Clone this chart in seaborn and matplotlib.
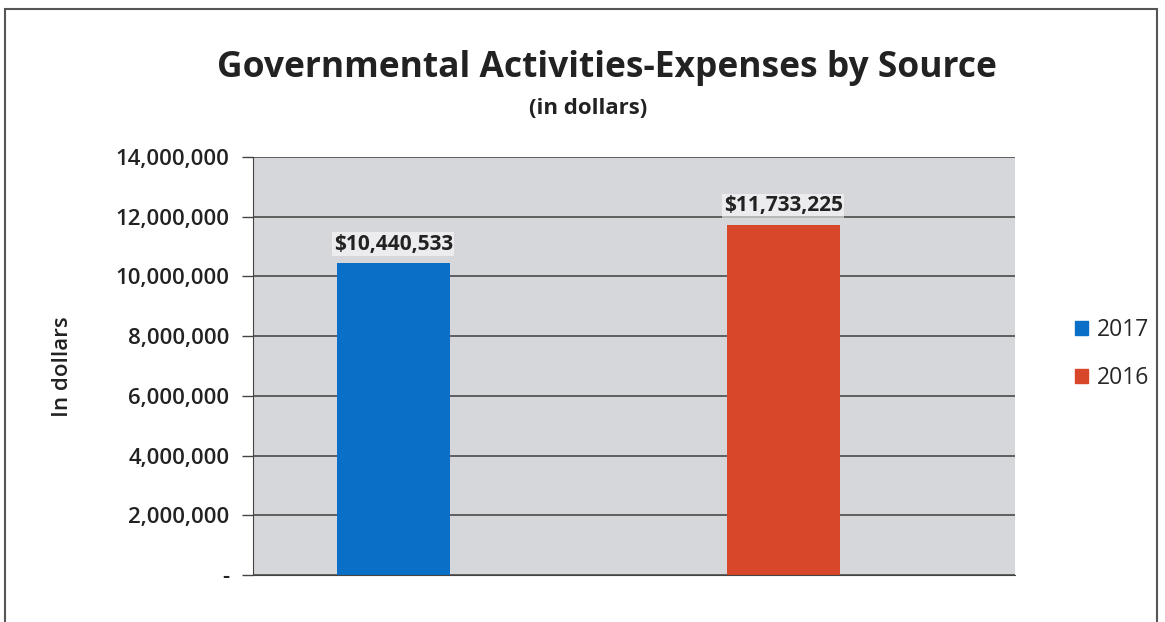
#!/usr/bin/env python3

import pandas as pd
import seaborn as sns
import matplotlib.pyplot as plt
from matplotlib.patches import Rectangle
from matplotlib.ticker import FuncFormatter

# Chart data
years = ['2017', '2016']
expenses = [10440533, 11733225]
colors = ['#0a6fc6', '#d9472b']

data = pd.DataFrame({'year': years, 'value': expenses})

sns.set_style('white')
plt.rcParams['font.family'] = ['Open Sans', 'DejaVu Sans']

fig = plt.figure(figsize=(11.65, 6.22), dpi=100)
ax = fig.add_axes([253 / 1165, 1 - 575 / 622, 762 / 1165, 418 / 622])

sns.barplot(x='year', y='value', hue='year', data=data, palette=colors,
            dodge=False, width=0.29, legend=False, ax=ax, saturation=1,
            linewidth=0)

ax.set_facecolor('#d6d7da')
ax.set_ylim(0, 14000000)
ax.set_xlim(-0.36, 1.594)
ax.set_yticks(range(0, 14000001, 2000000))
ax.yaxis.set_major_formatter(FuncFormatter(lambda v, p: '-' if v == 0 else f'{int(v):,}'))
ax.grid(axis='y', color='#3f3f3f', linewidth=1.1)
ax.set_axisbelow(True)
ax.set_xticks([])
ax.set_xlabel('')
ax.set_ylabel('')
ax.tick_params(axis='y', labelsize=16, length=8, width=1, color='#444444',
               left=True, pad=9, labelcolor='#222222')
for lbl in ax.get_yticklabels():
    lbl.set_fontweight('semibold')
for side in ['top', 'right']:
    ax.spines[side].set_visible(False)
ax.spines['left'].set_color('#444444')
ax.spines['bottom'].set_color('#444444')

fig.text(63 / 1165, 1 - 367 / 622, 'In dollars', rotation=90, ha='center', va='center',
         fontsize=16, fontweight='semibold', color='#222222')

# Value labels
for i, v in enumerate(expenses):
    ax.text(i, v + 280000, f'${v:,}', ha='center', va='bottom',
            fontsize=15, fontweight='bold', color='#222222',
            bbox=dict(facecolor='white', edgecolor='none', pad=1.0, alpha=0.55))

# Title and subtitle
fig.text(607 / 1165, 1 - 68 / 622, 'Governmental Activities-Expenses by Source',
         ha='center', va='center', fontsize=25.5, fontweight='bold', color='#222222')
fig.text(588 / 1165, 1 - 108 / 622, '(in dollars)', ha='center', va='center',
         fontsize=16, fontweight='bold', color='#222222')

# Legend
handles = [Rectangle((0, 0), 1, 1, color=c) for c in colors]
fig.legend(handles, years, loc='center left', bbox_to_anchor=(1054 / 1165, 1 - 354 / 622),
           frameon=False, fontsize=16.5, handlelength=0.6, handleheight=0.6,
           labelspacing=1.05, handletextpad=0.35)

# Outer border
fig.add_artist(Rectangle((5 / 1165, -0.01), 1152 / 1165, 1 - 9 / 622 + 0.01,
                         transform=fig.transFigure, fill=False,
                         edgecolor='#555555', linewidth=1.5))

plt.savefig('out.png', dpi=100)
